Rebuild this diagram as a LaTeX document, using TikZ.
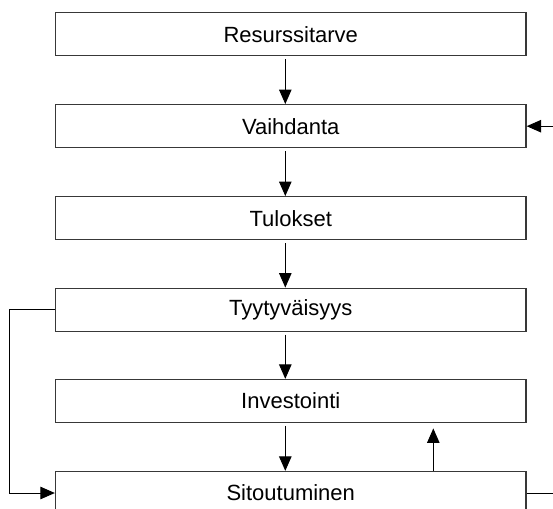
\documentclass[tikz,border=0pt]{standalone}
\usepackage{fontspec}
\setmainfont{Liberation Sans}
\usetikzlibrary{arrows.meta}
\begin{document}
\begin{tikzpicture}[x=1bp,y=-1bp,
  stagebox/.style={draw=black!78,line width=1.3bp,rectangle,minimum width=470.5bp,minimum height=43bp,
    inner sep=0pt,fill=white,font=\fontsize{22bp}{26bp}\selectfont},
  arr/.style={draw=black,line width=1bp,-{Triangle[length=14.5bp,width=12.5bp]}},
  link/.style={draw=black,line width=1bp}]
\useasboundingbox (0,0) rectangle (553,509);
\clip (0,0) rectangle (553,509);
% process stages, top to bottom
\node[stagebox] (res) at (290.75,34.2)  {Resurssitarve};
\node[stagebox] (vai) at (290.75,126.2) {Vaihdanta};
\node[stagebox] (tul) at (290.75,218.2) {Tulokset};
\node[stagebox] (tyy) at (290.75,309.7) {Tyytyväisyys};
\node[stagebox] (inv) at (290.75,401.0) {Investointi};
\node[stagebox] (sit) at (290.75,493.0) {Sitoutuminen};
% main downward chain
\draw[arr] ([xshift=-5.45bp,yshift=-2.7bp]res.south) -- ([xshift=-5.45bp]vai.north);
\draw[arr] ([xshift=-5.45bp,yshift=-2.7bp]vai.south) -- ([xshift=-5.45bp]tul.north);
\draw[arr] ([xshift=-5.45bp,yshift=-2.7bp]tul.south) -- ([xshift=-5.45bp]tyy.north);
\draw[arr] ([xshift=-5.45bp,yshift=-2.7bp]tyy.south) -- ([xshift=-5.45bp]inv.north);
\draw[arr] ([xshift=-5.45bp,yshift=-2.7bp]inv.south) -- ([xshift=-5.45bp]sit.north);
% feedback from commitment back to investment
\draw[arr] ([xshift=142.55bp]sit.north) -- ([xshift=142.55bp,yshift=-5.3bp]inv.south);
% left loop: satisfaction to commitment
\draw[arr] (tyy.west) -- ++(-45.5,0) |- (sit.west);
% right loop: commitment back to exchange
\draw[arr] (sit.east) -- ++(60,0) |- (vai.east);
\end{tikzpicture}
\end{document}
